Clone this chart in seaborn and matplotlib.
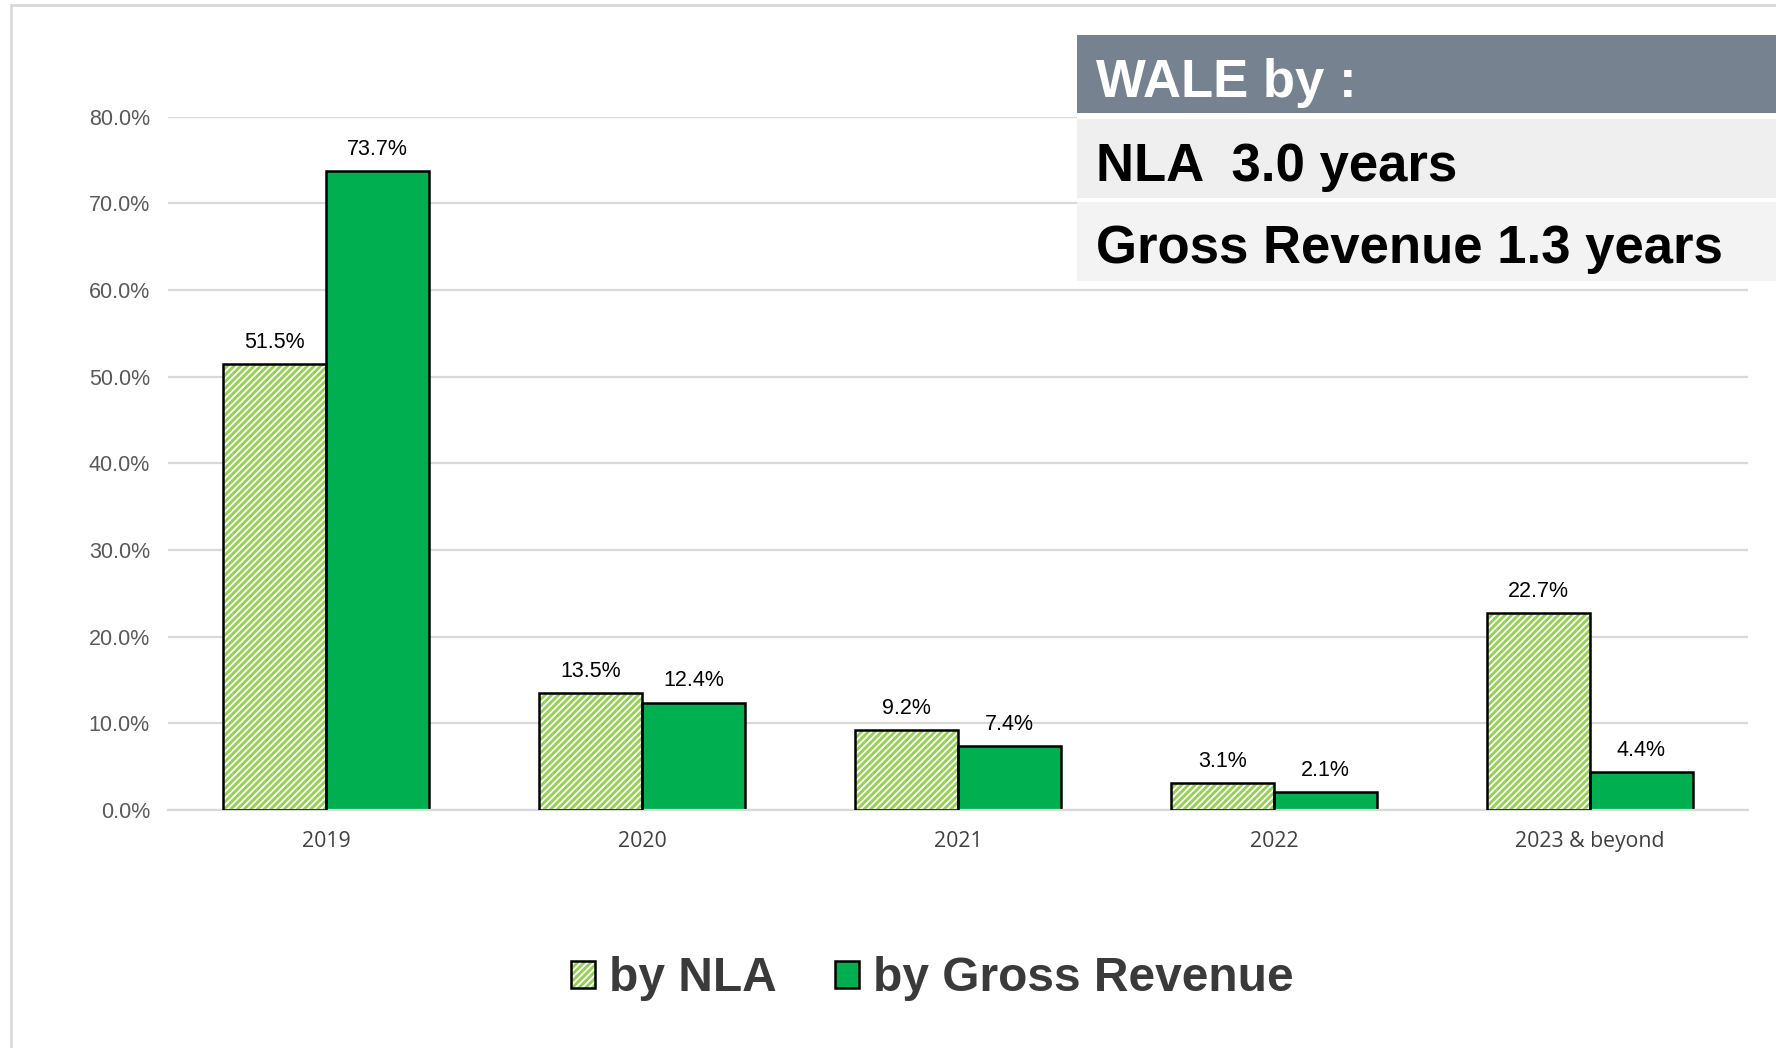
import numpy as np
import pandas as pd
import matplotlib.pyplot as plt
import seaborn as sns
from matplotlib.patches import Rectangle, Patch

# lease expiry profile
years = ['2019', '2020', '2021', '2022', '2023 & beyond']
by_nla = [51.5, 13.5, 9.2, 3.1, 22.7]
by_revenue = [73.7, 12.4, 7.4, 2.1, 4.4]
series = ['by NLA', 'by Gross Revenue']
y_ticks = [0, 10, 20, 30, 40, 50, 60, 70, 80]

box_lines = ['WALE by :', 'NLA  3.0 years', 'Gross Revenue 1.3 years']

df = pd.DataFrame({
    'year': years * 2,
    'value': by_nla + by_revenue,
    'series': [series[0]] * len(years) + [series[1]] * len(years),
})

sns.set_style('white')
plt.rcParams['font.family'] = ['Liberation Sans', 'DejaVu Sans']
plt.rcParams['hatch.linewidth'] = 2.0

light_green = '#92D050'
dark_green = '#00B050'

fig = plt.figure(figsize=(17.76, 10.48), dpi=100)
ax = fig.add_axes([0.0946, 0.2271, 0.8896, 0.6615])

sns.barplot(data=df, x='year', y='value', hue='series', hue_order=series,
            palette=['white', dark_green], saturation=1, width=0.65,
            legend=False, ax=ax, zorder=2)

# hatched bars: green stripes, black outline drawn on top
for bar in ax.containers[0]:
    bar.set_hatch('/////')
    bar.set_edgecolor(light_green)
    bar.set_linewidth(0)
    ax.add_patch(Rectangle(bar.get_xy(), bar.get_width(), bar.get_height(),
                           fill=False, edgecolor='black', lw=1.8, zorder=3))
for bar in ax.containers[1]:
    bar.set_edgecolor('black')
    bar.set_linewidth(1.8)

for cont, vals in zip(ax.containers, [by_nla, by_revenue]):
    ax.bar_label(cont, labels=[f'{v:.1f}%' for v in vals], padding=8,
                 fontsize=15.5, color='black')

ax.set_xlim(-0.5, 4.5)
ax.set_ylim(0, 80)
ax.set_yticks(y_ticks)
ax.set_yticklabels([f'{t:.1f}%' for t in y_ticks], fontsize=15.5, color='#595959')
ax.tick_params(axis='y', length=0, pad=13)
ax.tick_params(axis='x', length=0, pad=15)
for lab in ax.get_xticklabels():
    lab.set_family(['Open Sans', 'DejaVu Sans'])
    lab.set_fontsize(15.3)
    lab.set_color('#404040')
ax.set_xlabel('')
ax.set_ylabel('')
ax.yaxis.grid(True, color='#D9D9D9', lw=1.6, zorder=0)
ax.set_axisbelow(True)
for s in ['top', 'right', 'left']:
    ax.spines[s].set_visible(False)
ax.spines['bottom'].set_color('#D9D9D9')
ax.spines['bottom'].set_linewidth(1.6)

# outer light frame
fig.patches.append(Rectangle((11 / 1776, -0.1), 1.2, 1.1 - 5 / 1048,
                             transform=fig.transFigure, fill=False,
                             edgecolor='#D9D9D9', lw=2))

# WALE box in the top right
x0 = 1077 / 1776
fig.patches.append(Rectangle((x0, 1 - 283 / 1048), 1 - x0, 248 / 1048,
                             transform=fig.transFigure, facecolor='white',
                             edgecolor='none', zorder=5))
rows = [(35, 113, 97, '#778291', 'white'), (119, 198, 181, '#EFEFEF', 'black'),
        (202, 281, 263, '#F3F3F3', 'black')]
for (top, bot, base, bg, fg), txt in zip(rows, box_lines):
    fig.patches.append(Rectangle((x0, 1 - bot / 1048), 1 - x0, (bot - top) / 1048,
                                 transform=fig.transFigure, facecolor=bg,
                                 edgecolor='none', zorder=6))
    fig.text(1096 / 1776, 1 - base / 1048, txt, fontsize=38,
             fontweight='bold', color=fg, va='baseline', ha='left', zorder=7)

# legend
h1 = (Patch(facecolor='white', edgecolor=light_green, hatch='/////', lw=0),
      Patch(fill=False, edgecolor='black', lw=1.8))
h2 = Patch(facecolor=dark_green, edgecolor='black', lw=1.8)
leg = fig.legend([h1, h2], series, loc='center', bbox_to_anchor=(0.525, 0.066),
                 ncol=2, frameon=False, handlelength=0.5, handleheight=0.5,
                 handletextpad=0.3, columnspacing=1.2,
                 prop={'size': 34.5, 'weight': 'bold'})
for t in leg.get_texts():
    t.set_color('#3A3A3A')

plt.savefig('out.png', dpi=100)
